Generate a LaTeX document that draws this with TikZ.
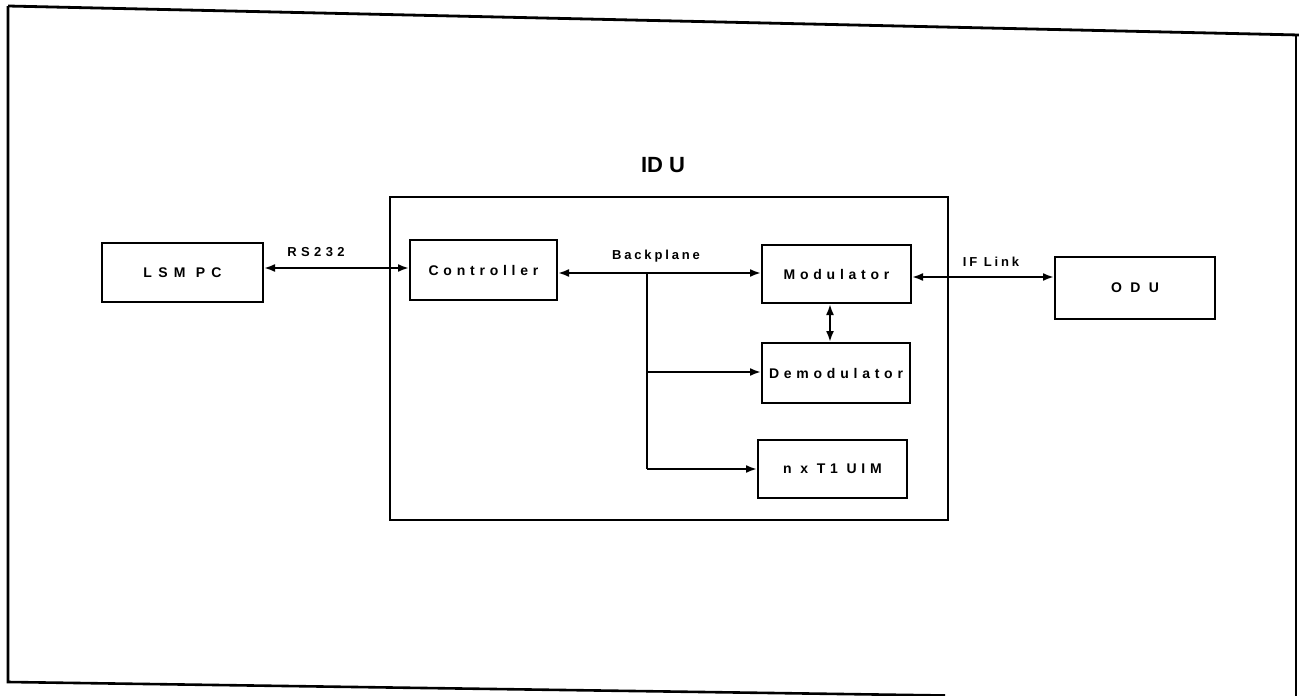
\documentclass[tikz,border=0pt]{standalone}
\usepackage{fontspec}
\setmainfont{Liberation Sans}
\newfontfamily\lsfont[LetterSpace=34]{Liberation Sans}
\newfontfamily\lsfontb[LetterSpace=22]{Liberation Sans}
\usetikzlibrary{arrows.meta}
\begin{document}
\begin{tikzpicture}[x=1pt,y=-1pt,
  box/.style={draw,line width=2pt,minimum width=#1,inner sep=0pt,font=\lsfont\bfseries\fontsize{14}{16}\selectfont},
  conn/.style={line width=2pt},
  arr/.style={line width=2pt,-{Latex[length=11pt,width=8pt]}},
  darr/.style={line width=2pt,{Latex[length=11pt,width=8pt]}-{Latex[length=11pt,width=8pt]}},
  lbl/.style={font=\lsfontb\bfseries\fontsize{13}{15}\selectfont}]
\useasboundingbox (0,0) rectangle (1299,696);
% outer frame (scanned, slightly skewed)
\draw[line width=2.8pt] (8,6) -- (1299,35);
\draw[line width=2.6pt] (8,6) -- (8,682) -- (945,695.5);
\draw[line width=2.4pt] (1296,35) -- (1296,696);
% IDU box
\node[draw,line width=2pt,minimum width=558pt,minimum height=323pt,inner sep=0pt] (idu) at (669,358.5) {};
\node[font=\bfseries\fontsize{22}{24}\selectfont] (idulbl) at (663,165) {ID U};
% blocks
\node[box=161pt,minimum height=59pt] (lsm) at (182.5,272.5) {\addfontfeature{LetterSpace=45}LSM PC};
\node[box=147pt,minimum height=60pt] (ctrl) at (483.5,270) {Controller};
\node[box=149pt,minimum height=58pt] (mod) at (836.5,274) {Modulator};
\node[box=148pt,minimum height=60pt] (demod) at (836,373) {Demodulator};
\node[box=149pt,minimum height=58pt] (uim) at (832.5,469) {n x T1 UIM};
\node[box=160pt,minimum height=62pt] (odu) at (1135,288) {\addfontfeature{LetterSpace=60}ODU};
% connectors
\draw[darr] (lsm.east |- 0,268) -- (ctrl.west |- 0,268);
\node[lbl,font=\lsfont\bfseries\fontsize{13}{15}\selectfont] (rs) at (316,252) {RS232};
\draw[darr] (ctrl.east |- 0,273) -- (mod.west |- 0,273);
\node[lbl] (bp) at (656,256) {Backplane};
\coordinate (bus) at (647,273);
\coordinate (busd) at (647,372);
\coordinate (busu) at (647,469);
\draw[conn] (bus) -- (busu);
\draw[arr] (busd) -- (demod.west |- busd);
\draw[arr] (busu) -- (uim.west |- busu);
\draw[darr] (mod.south -| 830,0) -- (demod.north -| 830,0);
\draw[darr] (mod.east |- 0,277) -- (odu.west |- 0,277);
\node[lbl] (if) at (991,262) {IF Link};
\end{tikzpicture}
\end{document}
